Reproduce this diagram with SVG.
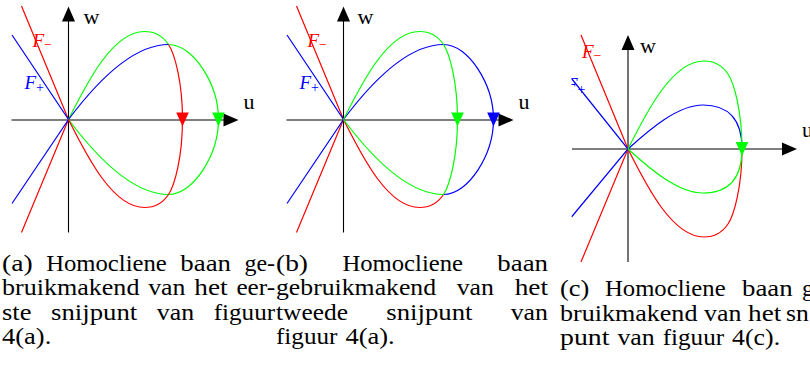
<svg xmlns="http://www.w3.org/2000/svg" width="810" height="367" viewBox="0 0 810 367">
<style>
.ax{stroke:#000;stroke-width:1.1;fill:none}
.axh{fill:#000;stroke:none}
.r{stroke:#f00;stroke-width:1.2;fill:none}
.g{stroke:#0f0;stroke-width:1.2;fill:none}
.b{stroke:#00f;stroke-width:1.2;fill:none}
.fr{fill:#f00}.fg{fill:#0f0}.fb{fill:#00f}
text{font-family:'Liberation Serif','Times New Roman','DejaVu Serif',serif}
.lbl{font-size:22px;fill:#000}
.F{font-style:italic;font-size:19px}
.sub{font-style:normal;font-size:14px}
.cap{font-size:22.5px;fill:#000}
</style>
<defs>
<path id="ah" d="M-6.3,-7 L6.3,-7 L0,7 Z"/>
<g id="axes">
<line class="ax" x1="0" y1="113" x2="0" y2="-99"/>
<path class="axh" d="M-6.5,-98 L0,-113 L6.5,-98 Z"/>
<line class="ax" x1="-57" y1="0.5" x2="156" y2="0.5"/>
<path class="axh" d="M155,-6 L170,0.5 L155,7 Z"/>
</g>
<clipPath id="clipc"><rect x="571.5" y="0" width="260" height="270"/></clipPath>
</defs>

<g id="panel-a" transform="translate(68.5,119.5)">
<use href="#axes"/>
<text class="lbl" font-family="Liberation Serif, serif" x="15" y="-96">w</text>
<text class="lbl" font-family="Liberation Serif, serif" x="175" y="-11">u</text>
<g id="manifolds-a">
<path class="r" d="M-47,-113.5 L0,0 L-47,113"/>
<path class="b" d="M-56.5,-84.5 L0,0 L-56.5,84"/>
</g>
<text class="F fr" font-family="Liberation Serif, serif" x="-36" y="-72.5">F<tspan class="sub" dy="2">−</tspan></text>
<text class="F fb" font-family="Liberation Serif, serif" x="-44" y="-30.5">F<tspan class="sub" dy="2.5">+</tspan></text>
<g id="orbits-a">
<path class="g" d="M0,0 C20,-40 45,-88 76,-88 C88,-88 96,-81 100,-75 C125,-75 150,-35 150,0 C150,35 125,75 100,75 C65,75 30,40 0,0"/>
<path class="b" d="M0,0 C30,-40 65,-75 100,-75"/>
<path class="r" d="M100,-75 C106,-66 114,-38 114,0 C114,38 106,66 100,75 C96,81 88,88 76,88 C45,88 20,40 0,0"/>
<use href="#ah" class="fr" x="114" y="0"/>
<use href="#ah" class="fg" x="150" y="0"/>
</g>
</g>

<g id="panel-b" transform="translate(343.5,119.5)">
<use href="#axes"/>
<text class="lbl" font-family="Liberation Serif, serif" x="14" y="-96">w</text>
<text class="lbl" font-family="Liberation Serif, serif" x="175" y="-11">u</text>
<g id="manifolds-b">
<path class="r" d="M-47,-113.5 L0,0 L-47,113"/>
<path class="b" d="M-56.5,-84.5 L0,0 L-56.5,84"/>
</g>
<text class="F fr" font-family="Liberation Serif, serif" x="-36" y="-72.5">F<tspan class="sub" dy="2">−</tspan></text>
<text class="F fb" font-family="Liberation Serif, serif" x="-44" y="-30.5">F<tspan class="sub" dy="2.5">+</tspan></text>
<g id="orbits-b">
<path class="r" d="M0,0 C20,40 45,88 76,88 C88,88 96,81 100,75"/>
<path class="b" d="M0,0 C30,-40 65,-75 100,-75 C125,-75 150,-35 150,0 C150,35 125,75 100,75"/>
<path class="g" d="M0,0 C20,-40 45,-88 76,-88 C88,-88 96,-81 100,-75 C106,-66 114,-38 114,0 C114,38 106,66 100,75 C65,75 30,40 0,0"/>
<use href="#ah" class="fg" x="114" y="0"/>
<use href="#ah" class="fb" x="150" y="0"/>
</g>
</g>

<g clip-path="url(#clipc)">
<g id="panel-c" transform="translate(628,149)">
<line class="ax" x1="0" y1="113" x2="0" y2="-99"/>
<path class="axh" d="M-6.5,-99 L0,-114 L6.5,-99 Z"/>
<line class="ax" x1="-56" y1="0" x2="155" y2="0"/>
<path class="axh" d="M154,-6.5 L169,0 L154,6.5 Z"/>
<text class="lbl" font-family="Liberation Serif, serif" x="12" y="-96">w</text>
<text class="lbl" font-family="Liberation Serif, serif" x="174" y="-12">u</text>
<g id="manifolds-c">
<path class="r" d="M-47,-114 L0,0 L-47,113"/>
<path class="b" d="M-56.5,-70.5 L0,0 L-56.5,68"/>
</g>
<text class="F fr" font-family="Liberation Serif, serif" x="-46" y="-91">F<tspan class="sub" dy="2">−</tspan></text>
<text class="F fb" font-family="Liberation Serif, serif" x="-62" y="-58">F<tspan class="sub" dy="2.5">+</tspan></text>
<g id="orbits-c">
<path class="r" d="M0,0 C20,40 45,88 76,88 C88,88 96,81 100,75 C106,66 114,38 114,0"/>
<path class="b" d="M0,0 C22,-20 50,-44 75,-44 C100,-44 114,-30 114,0"/>
<path class="g" d="M0,0 C20,-40 45,-88 76,-88 C88,-88 96,-81 100,-75 C106,-66 114,-38 114,0 C114,30 100,44 75,44 C50,44 22,20 0,0"/>
<use href="#ah" class="fg" x="114" y="0"/>
</g>
</g>
</g>

<g id="caption-a" class="cap" font-family="Liberation Serif, serif">
<text x="2" y="270.5" textLength="30.7" lengthAdjust="spacingAndGlyphs">(a)</text>
<text x="46.2" y="270.5" textLength="120.6" lengthAdjust="spacingAndGlyphs">Homocliene</text>
<text x="180.3" y="270.5" textLength="50.7" lengthAdjust="spacingAndGlyphs">baan</text>
<text x="244.5" y="270.5" textLength="30.6" lengthAdjust="spacingAndGlyphs">ge-</text>
<text x="2" y="295" textLength="137.4" lengthAdjust="spacingAndGlyphs">bruikmakend</text>
<text x="148.2" y="295" textLength="37.3" lengthAdjust="spacingAndGlyphs">van</text>
<text x="194.3" y="295" textLength="33.3" lengthAdjust="spacingAndGlyphs">het</text>
<text x="236.4" y="295" textLength="38.7" lengthAdjust="spacingAndGlyphs">eer-</text>
<text x="2" y="319.5" textLength="29.4" lengthAdjust="spacingAndGlyphs">ste</text>
<text x="51" y="319.5" textLength="86.2" lengthAdjust="spacingAndGlyphs">snijpunt</text>
<text x="156.8" y="319.5" textLength="37.3" lengthAdjust="spacingAndGlyphs">van</text>
<text x="213.7" y="319.5" textLength="61.4" lengthAdjust="spacingAndGlyphs">figuur</text>
<text x="2" y="344" textLength="49.3" lengthAdjust="spacingAndGlyphs">4(a).</text>
</g>

<g id="caption-b" class="cap" font-family="Liberation Serif, serif">
<text x="276" y="270.5" textLength="32" lengthAdjust="spacingAndGlyphs">(b)</text>
<text x="342.4" y="270.5" textLength="120.6" lengthAdjust="spacingAndGlyphs">Homocliene</text>
<text x="497.3" y="270.5" textLength="50.7" lengthAdjust="spacingAndGlyphs">baan</text>
<text x="276" y="295" textLength="160.1" lengthAdjust="spacingAndGlyphs">gebruikmakend</text>
<text x="456.7" y="295" textLength="37.3" lengthAdjust="spacingAndGlyphs">van</text>
<text x="514.7" y="295" textLength="33.3" lengthAdjust="spacingAndGlyphs">het</text>
<text x="276" y="319.5" textLength="72" lengthAdjust="spacingAndGlyphs">tweede</text>
<text x="386.3" y="319.5" textLength="86.2" lengthAdjust="spacingAndGlyphs">snijpunt</text>
<text x="510.7" y="319.5" textLength="37.3" lengthAdjust="spacingAndGlyphs">van</text>
<text x="276" y="344" textLength="61.4" lengthAdjust="spacingAndGlyphs">figuur</text>
<text x="345.4" y="344" textLength="49.3" lengthAdjust="spacingAndGlyphs">4(a).</text>
</g>

<g id="caption-c" class="cap" font-family="Liberation Serif, serif">
<text x="560" y="296" textLength="29.3" lengthAdjust="spacingAndGlyphs">(c)</text>
<text x="605" y="296" textLength="120.6" lengthAdjust="spacingAndGlyphs">Homocliene</text>
<text x="742" y="296" textLength="50.7" lengthAdjust="spacingAndGlyphs">baan</text>
<text x="802" y="296" textLength="12" lengthAdjust="spacingAndGlyphs">g</text>
<text x="560" y="320.5" textLength="137.4" lengthAdjust="spacingAndGlyphs">bruikmakend</text>
<text x="704.1" y="320.5" textLength="37.3" lengthAdjust="spacingAndGlyphs">van</text>
<text x="748.1" y="320.5" textLength="33.3" lengthAdjust="spacingAndGlyphs">het</text>
<text x="786" y="320.5" textLength="22.8" lengthAdjust="spacingAndGlyphs">sn</text>
<text x="560" y="345" textLength="49.4" lengthAdjust="spacingAndGlyphs">punt</text>
<text x="617.4" y="345" textLength="37.3" lengthAdjust="spacingAndGlyphs">van</text>
<text x="662.7" y="345" textLength="61.4" lengthAdjust="spacingAndGlyphs">figuur</text>
<text x="732.1" y="345" textLength="48" lengthAdjust="spacingAndGlyphs">4(c).</text>
</g>
</svg>
